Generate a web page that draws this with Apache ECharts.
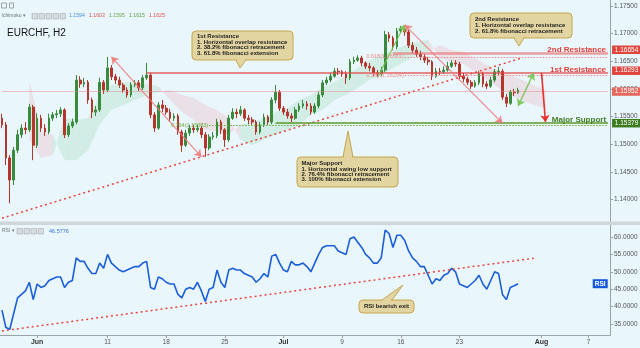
<!DOCTYPE html>
<html>
<head>
<meta charset="utf-8">
<title>EURCHF H2</title>
<script src="https://cdn.jsdelivr.net/npm/echarts@6/dist/echarts.min.js"></script>
<style>
html,body{margin:0;padding:0;background:#e9f6fc;}
#chart{width:640px;height:348px;}
</style>
</head>
<body>
<div id="chart"></div>
<script>
// ---------------- DATA ----------------
// 8-hour bars (3 per trading day), first bar ~ 29 May
const candleOpen = [
1.1547,1.1535,1.1475,1.1435,1.1489,1.1517,1.1529,1.1526,1.1567,1.1498,
1.1547,1.1529,1.1522,1.1547,1.1553,1.1555,1.1562,1.1517,1.1533,1.1540,
1.1616,1.1609,1.1612,1.1580,1.1558,1.1562,1.1612,1.1598,1.1638,1.1622,
1.1616,1.1607,1.1598,1.1589,1.1607,1.1611,1.1602,1.1620,1.1625,1.1553,
1.1529,1.1571,1.1565,1.1558,1.1547,1.1551,1.1522,1.1498,1.1520,1.1529,
1.1526,1.1529,1.1517,1.1493,1.1513,1.1515,1.1540,1.1526,1.1508,1.1547,
1.1558,1.1555,1.1562,1.1547,1.1544,1.1540,1.1522,1.1535,1.1549,1.1540,
1.1580,1.1594,1.1565,1.1558,1.1551,1.1547,1.1562,1.1569,1.1573,1.1569,
1.1558,1.1569,1.1589,1.1611,1.1616,1.1623,1.1632,1.1631,1.1627,1.1620,
1.1649,1.1652,1.1656,1.1647,1.1641,1.1638,1.1629,1.1627,1.1634,1.1698,
1.1692,1.1676,1.1705,1.1708,1.1703,1.1679,1.1670,1.1663,1.1658,1.1652,
1.1649,1.1623,1.1632,1.1631,1.1634,1.1641,1.1647,1.1645,1.1623,1.1618,
1.1612,1.1605,1.1611,1.1627,1.1609,1.1605,1.1616,1.1631,1.1632,1.1585,
1.1574,1.1594,1.1593];
const candleClose = [
1.1535,1.1475,1.1435,1.1489,1.1517,1.1529,1.1526,1.1567,1.1498,1.1547,
1.1529,1.1522,1.1547,1.1553,1.1555,1.1562,1.1517,1.1533,1.1540,1.1616,
1.1609,1.1612,1.1580,1.1558,1.1562,1.1612,1.1598,1.1638,1.1622,1.1616,
1.1607,1.1598,1.1589,1.1607,1.1611,1.1602,1.1620,1.1625,1.1553,1.1529,
1.1571,1.1565,1.1558,1.1547,1.1551,1.1522,1.1498,1.1520,1.1529,1.1526,
1.1529,1.1517,1.1493,1.1513,1.1515,1.1540,1.1526,1.1508,1.1547,1.1558,
1.1555,1.1562,1.1547,1.1544,1.1540,1.1522,1.1535,1.1549,1.1540,1.1580,
1.1594,1.1565,1.1558,1.1551,1.1547,1.1562,1.1569,1.1573,1.1569,1.1558,
1.1569,1.1589,1.1611,1.1616,1.1623,1.1632,1.1631,1.1627,1.1620,1.1649,
1.1652,1.1656,1.1647,1.1641,1.1638,1.1629,1.1627,1.1634,1.1698,1.1692,
1.1676,1.1705,1.1708,1.1703,1.1679,1.1670,1.1663,1.1658,1.1652,1.1649,
1.1623,1.1632,1.1631,1.1634,1.1641,1.1647,1.1645,1.1623,1.1618,1.1612,
1.1605,1.1611,1.1627,1.1609,1.1605,1.1616,1.1631,1.1632,1.1585,1.1574,
1.1594,1.1593,1.1598];
const candleLow = [
1.1529,1.1462,1.1393,1.1426,1.1484,1.1511,1.1518,1.1522,1.1471,1.1493,
1.1522,1.1515,1.1518,1.1542,1.1547,1.1549,1.1511,1.1513,1.1529,1.1536,
1.1602,1.1603,1.1573,1.1547,1.1551,1.1558,1.1591,1.1594,1.1616,1.1609,
1.1602,1.1593,1.1584,1.1585,1.1603,1.1596,1.1598,1.1616,1.1547,1.1522,
1.1526,1.1558,1.1553,1.1542,1.1542,1.1517,1.1486,1.1495,1.1515,1.1520,
1.1522,1.1511,1.1477,1.1489,1.1508,1.1511,1.1518,1.1495,1.1504,1.1544,
1.1547,1.1551,1.1542,1.1536,1.1535,1.1517,1.1518,1.1531,1.1535,1.1536,
1.1574,1.1560,1.1553,1.1546,1.1540,1.1544,1.1558,1.1565,1.1562,1.1553,
1.1555,1.1565,1.1585,1.1607,1.1612,1.1620,1.1625,1.1622,1.1609,1.1616,
1.1645,1.1649,1.1641,1.1636,1.1632,1.1623,1.1622,1.1623,1.1631,1.1685,
1.1670,1.1672,1.1701,1.1696,1.1674,1.1665,1.1658,1.1652,1.1647,1.1643,
1.1616,1.1620,1.1625,1.1627,1.1631,1.1638,1.1640,1.1618,1.1612,1.1607,
1.1600,1.1602,1.1607,1.1603,1.1600,1.1602,1.1612,1.1625,1.1580,1.1567,
1.1571,1.1587,1.1591];
const candleHigh = [
1.1555,1.1540,1.1480,1.1495,1.1526,1.1536,1.1540,1.1573,1.1571,1.1556,
1.1553,1.1536,1.1555,1.1558,1.1562,1.1567,1.1565,1.1538,1.1546,1.1625,
1.1623,1.1620,1.1616,1.1584,1.1569,1.1620,1.1616,1.1658,1.1643,1.1627,
1.1622,1.1611,1.1603,1.1612,1.1616,1.1616,1.1625,1.1647,1.1629,1.1558,
1.1576,1.1580,1.1571,1.1564,1.1556,1.1555,1.1526,1.1526,1.1535,1.1535,
1.1536,1.1533,1.1522,1.1518,1.1522,1.1546,1.1544,1.1529,1.1553,1.1565,
1.1564,1.1569,1.1565,1.1553,1.1549,1.1544,1.1540,1.1555,1.1553,1.1585,
1.1607,1.1598,1.1569,1.1564,1.1556,1.1567,1.1574,1.1580,1.1578,1.1574,
1.1574,1.1594,1.1616,1.1622,1.1629,1.1638,1.1638,1.1634,1.1632,1.1654,
1.1658,1.1661,1.1660,1.1650,1.1647,1.1641,1.1634,1.1640,1.1705,1.1703,
1.1696,1.1710,1.1714,1.1712,1.1707,1.1685,1.1676,1.1669,1.1663,1.1658,
1.1652,1.1638,1.1638,1.1641,1.1649,1.1652,1.1652,1.1649,1.1629,1.1622,
1.1616,1.1616,1.1632,1.1631,1.1614,1.1622,1.1636,1.1640,1.1636,1.1591,
1.1598,1.1600,1.1602];

const rsiValues = [
39,34,33.5,38,42.5,43.5,44.5,47,42,46.5,
45.5,46,47.5,48,48.5,48.5,45.5,47,47.5,54,
53,53,51,49.5,49.5,52.5,51,55,52.5,51.5,
50.5,50,50.5,51,51.5,51.5,52.5,53,45.5,45,
48.5,48,47,46.5,46.5,43.5,42.5,45,45.5,45,
47,44.5,41.5,45,45.5,50.5,47,45.5,50.5,51,
50.5,50.5,49.5,49,48.5,47,48,49.5,48.5,54.5,
55,52.5,50.5,50,53,52,52,52.5,51.5,50,
52.5,55,57,57.5,57.5,57.5,56,55.5,55,59.5,
60,58.5,57,55,54,52.5,52.5,54,62,61,
57,60.5,60.5,59,56,54,53,51.5,51.5,49,
46.5,48,47.5,49,49.5,51,50,46.5,46,45.5,
46.5,47.5,49,46.5,45,47.5,50,49.5,43.5,42,
45.5,46,46.58];
const rsiLast = 46.5776;

// Ichimoku cloud, one value per trading day (span A / span B)
const cloudA = [null,null,1.1508,1.1475,1.1480,1.1547,1.1544,1.1547,1.1589,1.1607,
1.1612,1.1612,1.1609,1.1605,1.1580,1.1558,1.1544,1.1526,1.1522,1.1517,
1.1535,1.1540,1.1547,1.1558,1.1565,1.1580,1.1589,1.1602,1.1612,1.1625,
1.1638,1.1652,1.1661,1.1670,1.1679,1.1685,1.1689,1.1656,1.1649,1.1645,
1.1631,1.1616,1.1602,1.1589,1.1580,1.1571,1.1565,null,null,null,null,null];
const cloudB = [null,null,1.1616,1.1522,1.1517,1.1471,1.1471,1.1489,1.1535,1.1562,
1.1571,1.1580,1.1589,1.1594,1.1598,1.1589,1.1584,1.1571,1.1562,1.1547,
1.1508,1.1498,1.1508,1.1517,1.1526,1.1535,1.1553,1.1562,1.1580,1.1589,
1.1602,1.1616,1.1625,1.1638,1.1649,1.1661,1.1667,1.1679,1.1670,1.1667,
1.1656,1.1643,1.1634,1.1625,1.1616,1.1607,1.1598,null,null,null,null,null];

// x-axis tick labels (bar index -> text)
const tickPos  = [9, 27, 42, 57, 72, 87, 102, 117, 138, 150];
const tickText = ['Jun','11','18','25','Jul','9','16','23','Aug','7'];

// horizontal levels
const levelValues = [1.16654, 1.16293, 1.15952, 1.15379];
const levelTags   = ['1.16654','1.16293','1.15952','1.15379'];
const levelNames  = ['2nd Resistance','1st Resistance','','Major Support'];
const levelStart  = [100, 37, 0, 70];
// fibonacci dotted levels
const fibLineValues = [1.1658, 1.1624, 1.1534];
const fibLabels     = ['0.618(1.16581)','0.382(1.16294)','0.764(1.15383)'];
const fibStart      = [103, 103, 53];
// trend lines [barIndex, value]
const trendMain = [[0, 1.1366], [133, 1.1656]];
const trendRsi  = [[0, 33.0], [136, 53.9]];
// arrows [barIndex, value]
const arrowFrom = [[28,1.1658],[96,1.1620],[103,1.1716],[132,1.1569],[138,1.1629]];
const arrowTo   = [[51,1.1477],[103,1.1716],[128,1.1538],[136,1.1629],[139,1.1540]];

// toolbar values
const toolbarValues = ['1.1594','1.1603','1.1595','1.1615','1.1625'];

// ---------------- BUILD ----------------
const FONT = '"Liberation Sans", Arial, sans-serif';
const nCats = 156, nDays = 52;
const categories = []; for (let i = 0; i < nCats; i++) categories.push(String(i));
const days = []; for (let i = 0; i < nDays; i++) days.push(String(i));
const candleData = candleOpen.map((o, i) => [o, candleClose[i], candleLow[i], candleHigh[i]]);
const cloudItems = [];
for (let k = 0; k < nDays - 1; k++) {
  if (cloudA[k] != null && cloudA[k+1] != null) cloudItems.push([k, cloudA[k], cloudB[k], cloudA[k+1], cloudB[k+1]]);
}

function seg(p0, p1, style, label, s0, s1) {
  return [
    {coord: p0, lineStyle: style, label: label || {show: false}, symbol: s0 || 'none', symbolSize: 7},
    {coord: p1, symbol: s1 || 'none', symbolSize: 7}
  ];
}

const lvlColors = ['rgba(236,100,100,0.6)','rgba(226,72,72,0.85)','rgba(232,130,130,0.45)','#5b9a2e'];
const lvlWidths = [2.5, 1.5, 1, 1.5];
const tagColors = ['#e0463d','#e0463d','#e3685e','#3e7c22'];
const tagShift  = [-3, -2, 0, 0];
const nameColors = ['#e2413a','#e2413a','#e2413a','#3e7c22'];
const fibColors = ['#ee8b8b','#ee8b8b','#6cab3c'];

const mainLines = [];
const tagPoints = [];
mainLines.push(seg(trendMain[0], trendMain[1], {color:'#e8453c', width:1.5, type:[2,3]}));
levelValues.forEach((v, j) => {
  mainLines.push(seg([levelStart[j], v], [155, v], {color: lvlColors[j], width: lvlWidths[j], type:'solid'},
    levelNames[j] ? {show:true, position:'insideEndTop', formatter: levelNames[j], color: nameColors[j],
      fontSize: 8, fontWeight:'bold', fontFamily: FONT, distance: [2, -1]} : {show:false}));
  tagPoints.push({coord: [155, v], symbol:'rect', symbolSize:[29, 8.5], symbolOffset:[18.5, tagShift[j]],
    itemStyle:{color: tagColors[j]},
    label:{show:true, position:'inside', formatter: levelTags[j], color:'#fff', fontSize:6.5, fontFamily: FONT}});
});
fibLineValues.forEach((v, j) => {
  mainLines.push(seg([fibStart[j], v], [155, v], {color: fibColors[j], width:1, type:[1.5,1.5]},
    {show:true, position:'start', formatter: fibLabels[j], color: fibColors[j], fontSize:5.5, fontFamily: FONT, distance:1}));
});
const arrowColors = ['rgba(238,120,120,0.85)','rgba(120,196,80,0.9)','rgba(238,120,120,0.85)','rgba(120,196,80,0.9)','#e3322b'];
const arrowHeads = [['arrow','arrow'],['none','arrow'],['arrow','arrow'],['arrow','arrow'],['none','arrow']];
const arrowWidths = [1.2, 1.2, 1.2, 1.4, 1.6];
arrowFrom.forEach((p, j) => {
  mainLines.push(seg(p, arrowTo[j], {color: arrowColors[j], width: arrowWidths[j], type:'solid'}, null, arrowHeads[j][0], arrowHeads[j][1]));
});

// ---------------- GRAPHICS ----------------
const graphics = [];
function addText(x, y, text, size, color, weight, align) {
  graphics.push({type:'text', x: x, y: y, z: 200, silent: true,
    style: {text: text, font: (weight || 'normal') + ' ' + size + 'px ' + FONT, fill: color,
      textAlign: align || 'left', textVerticalAlign: 'middle'}});
}
function addCallout(bx, by, bw, bh, tail, lines, lx, ly, lh, center) {
  const fill = '#e2d5a2', stroke = '#c7a64e';
  graphics.push({type:'polygon', z:150, silent:true, shape:{points: tail}, style:{fill: fill, stroke: stroke, lineWidth: 1}});
  graphics.push({type:'rect', z:151, silent:true, shape:{x: bx, y: by, width: bw, height: bh, r: 4}, style:{fill: fill, stroke: stroke, lineWidth: 1}});
  graphics.push({type:'line', z:152, silent:true, shape:{x1: tail[0][0] + 1, y1: tail[0][1], x2: tail[1][0] - 1, y2: tail[1][1]}, style:{stroke: fill, lineWidth: 2}});
  lines.forEach((t, i) => graphics.push({type:'text', x: lx, y: ly + i * lh, z: 153, silent: true,
    style: {text: t, font: 'bold 6px ' + FONT, fill: '#1e1e1e', textAlign: center ? 'center' : 'left', textVerticalAlign: 'middle'}}));
}
// panel separator
graphics.push({type:'rect', z:5, silent:true, shape:{x:0, y:221.5, width:640, height:3.5}, style:{fill:'#cfd5d9'}});
// toolbar
graphics.push({type:'rect', z:200, silent:true, shape:{x:1.5, y:3, width:5, height:5}, style:{fill:'none', stroke:'#8a8f93', lineWidth:0.8}});
graphics.push({type:'rect', z:200, silent:true, shape:{x:9.5, y:3, width:4, height:5}, style:{fill:'none', stroke:'#8a8f93', lineWidth:0.8}});
addText(1.5, 16, 'Ichimoku ▾', 5, '#6f757a');
[32, 39, 46, 53, 60].forEach(x => graphics.push({type:'rect', z:200, silent:true, shape:{x: x, y: 13.5, width: 5.5, height: 5.5}, style:{fill:'#d6dbde', stroke:'#a9b0b5', lineWidth:0.6}}));
const tbColors = ['#4a8fe0','#cf5a4e','#6aa84f','#5a9e3c','#e05050'];
toolbarValues.forEach((t, i) => addText(69 + i * 20, 16, t, 5.2, tbColors[i]));
addText(7, 33, 'EURCHF, H2', 10, '#151515');
// RSI header
addText(2, 231, 'RSI ▾', 5, '#6f757a');
[17, 24, 31, 38].forEach(x => graphics.push({type:'rect', z:200, silent:true, shape:{x: x, y: 228.5, width: 5.5, height: 5.5}, style:{fill:'#d6dbde', stroke:'#a9b0b5', lineWidth:0.6}}));
addText(49, 231, rsiLast.toFixed(4), 5.5, '#3a78d8');
// callouts
addCallout(192, 31, 101, 29, [[236,60],[246,60],[240,68]],
  ['1st Resistance','1. Horizontal overlap resistance','2. 38.2% fibonacci retracement','3. 61.8% fibonacci extension'], 197, 36.3, 5.7);
addCallout(470, 13, 102, 25, [[514,38],[524,38],[519,46]],
  ['2nd Resistance','1. Horizontal overlap resistance','2. 61.8% fibonacci retracement'], 475, 19.5, 6);
addCallout(297, 157, 101, 30, [[343,157],[353,157],[348,131]],
  ['Major Support','1. Horizontal swing low support','2. 76.4% fibonacci retracement','3. 100% fibonacci extension'], 301.5, 163.5, 5.4);
addCallout(359, 300, 55, 13, [[382,300],[392,300],[403,285]], ['RSI bearish exit'], 386.5, 306.7, 6, true);

// ---------------- OPTION ----------------
const axisGray = '#9aa3a8';
const option = {
  backgroundColor: '#e9f6fc',
  animation: false,
  textStyle: {fontFamily: FONT},
  grid: [
    {left: 0, right: 30, top: 0, height: 227, containLabel: false, outerBoundsMode: 'none'},
    {left: 0, right: 30, top: 226, height: 109, containLabel: false, outerBoundsMode: 'none'}
  ],
  xAxis: [
    {type:'category', gridIndex:0, data: categories, show:false},
    {type:'category', gridIndex:0, data: days, show:false},
    {type:'category', gridIndex:1, data: categories,
      axisLine:{show:true, lineStyle:{color: axisGray}},
      axisTick:{show:true, length:3, alignWithLabel:true, interval: idx => tickPos.indexOf(idx) >= 0, lineStyle:{color: axisGray}},
      axisLabel:{show:true, interval: idx => tickPos.indexOf(idx) >= 0, margin:4, fontSize:6.5, color:'#555',
        formatter: (val) => { const j = tickPos.indexOf(Number(val)); const t = j >= 0 ? tickText[j] : '';
          return /[A-Za-z]/.test(t) ? '{b|' + t + '}' : t; },
        rich: {b: {fontWeight:'bold', fontSize:7, color:'#333', fontFamily: FONT}}},
      splitLine:{show:false}}
  ],
  yAxis: [
    {type:'value', gridIndex:0, position:'right', min:1.135, max:1.17609, interval:0.005,
      axisLine:{show:true, lineStyle:{color: axisGray}}, axisTick:{show:true, length:3, lineStyle:{color: axisGray}},
      axisLabel:{formatter: v => v.toFixed(5), fontSize:6.5, color:'#555', margin:4, showMinLabel:false, showMaxLabel:false},
      splitLine:{show:false}},
    {type:'value', gridIndex:1, position:'right', min:31.84, max:63.16, splitNumber:6,
      axisLine:{show:true, lineStyle:{color: axisGray}}, axisTick:{show:true, length:3, lineStyle:{color: axisGray}},
      axisLabel:{formatter: v => v.toFixed(4), fontSize:6.5, color:'#555', margin:4, showMinLabel:false, showMaxLabel:false},
      splitLine:{show:false}}
  ],
  graphic: graphics,
  series: [
    {type:'custom', name:'cloud', xAxisIndex:1, yAxisIndex:0, z:1, silent:true,
      encode:{x:0, y:[1,2,3,4]},
      renderItem: function (params, api) {
        const k = api.value(0);
        const a0 = api.value(1), b0 = api.value(2), a1 = api.value(3), b1 = api.value(4);
        const pts = [api.coord([k, a0]), api.coord([k + 1, a1]), api.coord([k + 1, b1]), api.coord([k, b0])];
        const green = (a0 + a1) >= (b0 + b1);
        return {type:'polygon', shape:{points: pts},
          style:{fill: green ? 'rgba(120,205,140,0.2)' : 'rgba(240,140,150,0.2)'}};
      },
      data: cloudItems},
    {type:'candlestick', name:'EURCHF', xAxisIndex:0, yAxisIndex:0, z:3, barWidth:2.2,
      itemStyle:{color:'#3a8a3e', color0:'#b3352c', borderColor:'#3a8a3e', borderColor0:'#b3352c', borderWidth:1},
      data: candleData},
    {type:'line', name:'annotations', xAxisIndex:0, yAxisIndex:0, z:4, data: [], silent:true, clip:false,
      markLine:{silent:true, symbol:['none','none'], animation:false, emphasis:{disabled:true},
        label:{show:false}, data: mainLines}},
    {type:'line', name:'tags', xAxisIndex:0, yAxisIndex:0, z:6, data: [], silent:true, clip:false,
      markPoint:{silent:true, animation:false, emphasis:{disabled:true}, data: tagPoints}},
    {type:'line', name:'RSI', xAxisIndex:2, yAxisIndex:1, z:3, data: rsiValues, symbol:'none', silent:true, clip:false,
      lineStyle:{color:'#1b5fd9', width:1.6},
      markLine:{silent:true, symbol:['none','none'], animation:false, emphasis:{disabled:true}, label:{show:false},
        data:[seg(trendRsi[0], trendRsi[1], {color:'#e8453c', width:1.5, type:[2,3]})]},
      markPoint:{silent:true, animation:false, symbol:'rect', symbolSize:[15, 9],
        itemStyle:{color:'#1658d8'},
        label:{show:true, position:'inside', formatter:'RSI', color:'#fff', fontSize:6.5, fontWeight:'bold', fontFamily: FONT},
        data:[{coord:[153, rsiLast]}]}}
  ]
};
const chart = echarts.init(document.getElementById('chart'), null, {renderer:'canvas'});
chart.setOption(option);
</script>
</body>
</html>
